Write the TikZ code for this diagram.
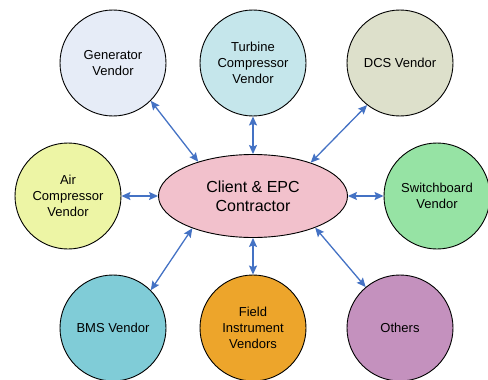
\documentclass[tikz,border=0pt]{standalone}
\usepackage{fontspec}
\setmainfont{Liberation Sans}
\usetikzlibrary{arrows.meta,shapes.geometric}
\definecolor{cgen}{HTML}{E6ECF7}
\definecolor{cturb}{HTML}{C5E6EB}
\definecolor{cdcs}{HTML}{DDE0CB}
\definecolor{cair}{HTML}{EDF5A5}
\definecolor{cell}{HTML}{F2C1CC}
\definecolor{csw}{HTML}{96E3A4}
\definecolor{cbms}{HTML}{80CCD7}
\definecolor{cfield}{HTML}{EDA52B}
\definecolor{cother}{HTML}{C491BE}
\definecolor{carrow}{HTML}{4472C4}
\tikzset{
  vendor/.style={circle, draw=black, line width=0.9pt, minimum size=106pt, inner sep=0pt,
    align=center, font=\fontsize{13}{16}\selectfont},
  hub/.style={ellipse, draw=black, line width=0.9pt, minimum width=189pt, minimum height=83pt,
    inner sep=0pt, align=center, font=\fontsize{16}{19}\selectfont, fill=cell},
  link/.style={draw=carrow, line width=1.3pt,
    {Stealth[length=9pt,width=8pt,inset=1.5pt]}-{Stealth[length=9pt,width=8pt,inset=1.5pt]}}
}
\begin{document}
\begin{tikzpicture}[x=1pt,y=-1pt]
\useasboundingbox (0,0) rectangle (488,380);
\node[hub] (ell) at (253,196) {Client \& EPC\\Contractor};
\node[vendor, fill=cgen] (gen) at (113,63) {Generator\\Vendor};
\node[vendor, fill=cturb] (turb) at (253,63) {Turbine\\Compressor\\Vendor};
\node[vendor, fill=cdcs] (dcs) at (400,63) {DCS Vendor};
\node[vendor, fill=cair] (air) at (68,196) {Air\\Compressor\\Vendor};
\node[vendor, fill=csw] (sw) at (437,196) {Switchboard\\Vendor};
\node[vendor, fill=cbms] (bms) at (113,328) {BMS Vendor};
\node[vendor, fill=cfield] (field) at (253,328) {Field\\Instrument\\Vendors};
\node[vendor, fill=cother] (oth) at (400,328) {Others};
\draw[link] (gen.-45) -- (ell.148);
\draw[link] (turb.270) -- (ell.90);
\draw[link] (dcs.232) -- (ell.30);
\draw[link] (air.0) -- (ell.180);
\draw[link] (sw.180) -- (ell.0);
\draw[link] (bms.45) -- (ell.208);
\draw[link] (field.90) -- (ell.270);
\draw[link] (oth.130) -- (ell.333);
\end{tikzpicture}
\end{document}
